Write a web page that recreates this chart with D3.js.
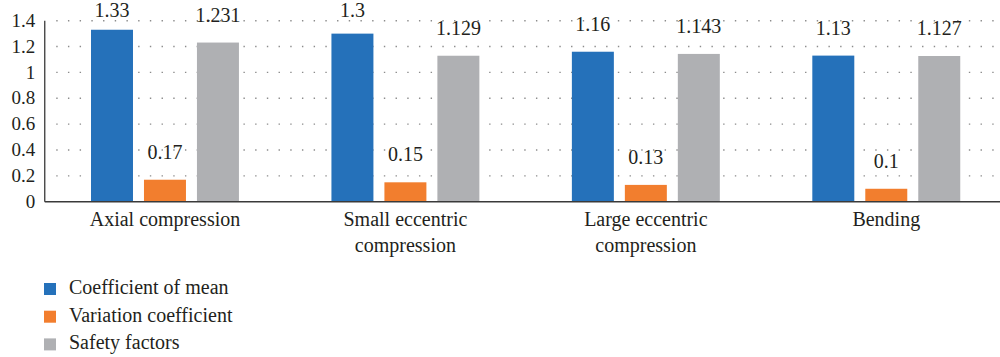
<!DOCTYPE html>
<html>
<head>
<meta charset="utf-8">
<script src="https://cdn.jsdelivr.net/npm/d3@7"></script>
<style>
  html, body { margin: 0; padding: 0; background: #fff; }
  svg { display: block; }
</style>
</head>
<body>
<svg id="chart" width="1000" height="357"></svg>
<script>
// Load cases along the x axis (line breaks marked with \n)
const categories = [
  "Axial compression",
  "Small eccentric\ncompression",
  "Large eccentric\ncompression",
  "Bending"
];
const seriesNames = ["Coefficient of mean", "Variation coefficient", "Safety factors"];
const meanCoef   = [1.33, 1.3, 1.16, 1.13];
const variation  = [0.17, 0.15, 0.13, 0.1];
const safety     = [1.231, 1.129, 1.143, 1.127];
const yTicks     = [0, 0.2, 0.4, 0.6, 0.8, 1, 1.2, 1.4];
const colors     = ["#2571BA", "#F27E2E", "#AFB0B3"];

const series = [meanCoef, variation, safety];
const FONT = "'Liberation Serif', 'DejaVu Serif', serif";
const textColor = "#231F20";

const svg = d3.select("#chart");
const margin = { left: 44.75, right: -6.5, top: 20.7, bottom: 155 };
const W = 1000, H = 357;
const x0 = d3.scaleBand().domain(categories).range([margin.left, W - margin.right]).paddingInner(0).paddingOuter(0);
const x1 = d3.scaleBand().domain(d3.range(series.length)).range([0, x0.bandwidth()]).paddingInner(0.2075).paddingOuter(0.873);
const y = d3.scaleLinear().domain([0, 1.4]).range([H - margin.bottom - 0.3, margin.top]);

// dotted horizontal gridlines
svg.append("g")
  .selectAll("line")
  .data(yTicks.filter(d => d > 0))
  .join("line")
  .attr("x1", margin.left + 11.5)
  .attr("x2", W)
  .attr("y1", d => y(d))
  .attr("y2", d => y(d))
  .attr("stroke", "#8c8c8c")
  .attr("stroke-width", 1.4)
  .attr("stroke-dasharray", "1.4 10.3");

// y tick labels
const yAxis = d3.axisLeft(y).tickValues(yTicks).tickSize(0).tickPadding(9.5)
  .tickFormat(d => String(+d.toFixed(1)));
const yg = svg.append("g").attr("transform", `translate(${margin.left},0)`).call(yAxis)
  .attr("font-family", FONT).attr("font-size", 19);
yg.select(".domain").remove();
yg.selectAll("text")
  .style("font-family", FONT)
  .attr("fill", textColor)
  .attr("dy", "0.3em");

// bars
const groups = svg.append("g")
  .selectAll("g")
  .data(categories)
  .join("g")
  .attr("transform", d => `translate(${x0(d)},0)`);

groups.selectAll("rect")
  .data((c, i) => series.map((s, k) => ({ k, v: s[i] })))
  .join("rect")
  .attr("x", d => x1(d.k))
  .attr("width", x1.bandwidth())
  .attr("y", d => y(d.v))
  .attr("height", d => y(0) - y(d.v))
  .attr("fill", d => colors[d.k]);

// value labels above each bar
groups.selectAll("text.val")
  .data((c, i) => series.map((s, k) => ({ k, v: s[i] })))
  .join("text")
  .attr("class", "val")
  .attr("x", d => x1(d.k) + x1.bandwidth() / 2)
  .attr("y", d => Math.max(17, y(d.v) - 21))
  .attr("text-anchor", "middle")
  .style("font-family", FONT)
  .attr("font-size", 20)
  .attr("fill", textColor)
  .text(d => String(d.v));

// axis lines
svg.append("line")
  .attr("x1", margin.left).attr("x2", margin.left)
  .attr("y1", y(1.4)).attr("y2", y(0))
  .attr("stroke", "#3a3a3a").attr("stroke-width", 1.3);
svg.append("line")
  .attr("x1", margin.left).attr("x2", W)
  .attr("y1", y(0)).attr("y2", y(0))
  .attr("stroke", "#3a3a3a").attr("stroke-width", 1.5);

// category labels
const catG = svg.append("g");
categories.forEach(c => {
  const lines = c.split("\n");
  const cx = x0(c) + x0.bandwidth() / 2;
  const t = catG.append("text")
    .attr("x", cx)
    .attr("y", y(0) + 24.5)
    .attr("text-anchor", "middle")
    .style("font-family", FONT)
    .attr("font-size", 20)
    .attr("fill", textColor);
  lines.forEach((ln, i) => {
    t.append("tspan")
      .attr("x", cx)
      .attr("dy", i === 0 ? 0 : 25.5)
      .text(ln);
  });
});

// legend
const legend = svg.append("g").attr("transform", "translate(44,283)");
const items = legend.selectAll("g")
  .data(seriesNames)
  .join("g")
  .attr("transform", (d, i) => `translate(0,${i * 27.7})`);
items.append("rect")
  .attr("width", 12).attr("height", 12)
  .attr("fill", (d, i) => colors[i]);
items.append("text")
  .attr("x", 25)
  .attr("y", 11)
  .style("font-family", FONT)
  .attr("font-size", 20)
  .attr("fill", textColor)
  .text(d => d);
</script>
</body>
</html>
